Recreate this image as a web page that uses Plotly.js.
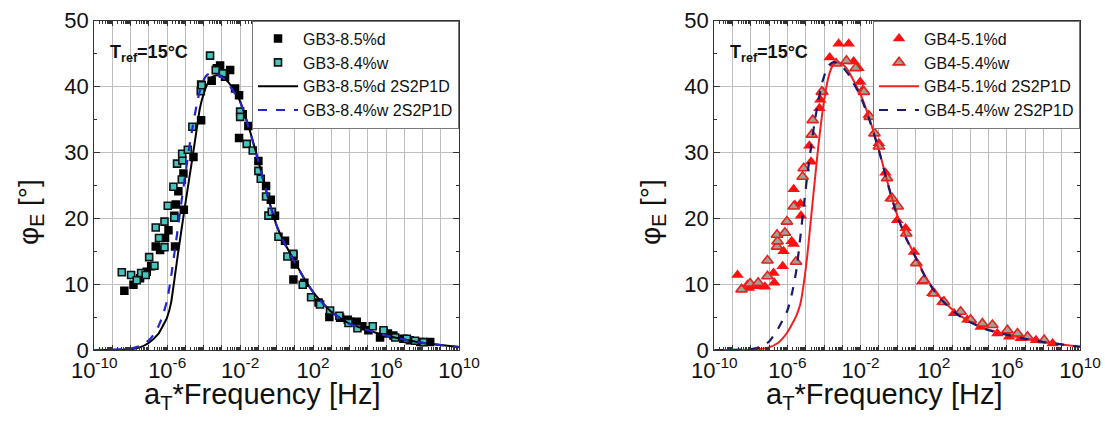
<!DOCTYPE html>
<html>
<head>
<meta charset="utf-8">
<script src="https://cdn.plot.ly/plotly-3.0.1.min.js"></script>
<style>html,body{margin:0;padding:0;background:#fff;}#chart{width:1105px;height:427px;}</style>
</head>
<body>
<div id="chart"></div>
<script>
// ---------- DATA (x stored as log10 of aT*Frequency [Hz], y = phase angle [deg]) ----------
// Left panel: GB3
var gb3dLogF = [-8.35,-7.85,-7.49,-7.12,-6.88,-6.63,-6.39,-6.12,-5.93,-5.57,-5.61,-5.53,-5.39,-5.09,-5.11,-4.56,-4.14,-4.14,-3.56,-3.28,-3.10,-2.83,-2.55,-2.28,-2.06,-2.06,-1.86,-1.55,-1.0,-0.58,-0.32,-0.09,0.46,0.92,0.92,1.0,1.52,2.3,2.89,3.48,3.9,4.03,4.39,4.7,5.03,5.67,5.86,6.1,6.40,6.95,7.3,7.87,8.42];
var gb3dPhi  = [9.0,9.9,10.9,11.9,12.7,15.7,15.2,17.0,18.2,15.7,20.4,22.1,24.1,21.3,26.8,29.3,34.9,40.3,40.9,42.8,43.2,41.5,42.5,39.7,38.7,32.2,35.8,34.0,28.7,24.9,22.8,20.4,16.6,14.3,10.7,13.0,10.2,7.2,5.0,4.9,4.6,4.3,4.3,3.6,3.0,1.9,2.7,2.5,2.2,1.7,1.5,1.2,1.2];
var gb3wLogF = [-8.49,-7.98,-7.67,-7.43,-7.18,-6.99,-6.70,-6.63,-6.45,-6.15,-6.15,-5.97,-5.66,-5.61,-5.46,-5.20,-5.17,-5.18,-4.87,-4.62,-4.16,-4.11,-3.65,-3.34,-2.95,-2.0,-2.0,-1.64,-1.31,-1.0,-0.87,-0.58,-0.45,-0.27,0.10,0.59,0.92,1.43,1.89,2.38,2.93,3.44,3.94,4.43,5.27,5.86,6.50,7.14,7.59,8.05];
var gb3wPhi  = [11.8,11.4,10.6,11.7,11.4,14.1,12.8,18.6,17.0,19.5,15.6,21.9,24.8,20.1,28.3,25.9,28.8,29.8,30.4,33.9,39.3,40.2,44.7,42.5,42.0,36.2,35.4,31.3,30.3,27.2,26.0,23.3,20.4,21.0,17.2,14.2,14.6,9.9,8.0,6.9,6.0,5.2,4.1,3.3,3.6,3.0,1.9,1.7,1.4,1.2];
var gb3dModelLogF = [-10,-9,-8,-7.5,-7,-6.5,-6.25,-6,-5.8,-5.6,-5.4,-5.2,-5,-4.8,-4.6,-4.4,-4.2,-4,-3.8,-3.5,-3.2,-2.9,-2.6,-2.3,-2,-1.5,-1,-0.5,0,0.5,1,1.5,2,2.5,3,3.5,4,5,6,7,8,9,10];
var gb3dModelPhi  = [0,0.02,0.12,0.4,1.1,2.4,3.6,5.0,7.0,10.8,14.8,18.6,22.3,25.9,29.5,33.2,36.8,38.9,40.4,41.5,41.7,41.4,40.5,39.4,37.7,33.6,28.7,23.5,18.9,15.9,13.4,10.9,8.8,7.2,5.8,4.8,4.0,3.0,2.2,1.6,1.1,0.75,0.45];
var gb3wModelLogF = [-10,-9,-8,-7.5,-7,-6.75,-6.5,-6.25,-6,-5.8,-5.6,-5.4,-5.2,-5,-4.8,-4.6,-4.4,-4.2,-4,-3.8,-3.5,-3.2,-2.9,-2.6,-2.3,-2,-1.5,-1,-0.5,0,0.5,1,1.5,2,2.5,3,3.5,4,5,6,7,8,9,10];
var gb3wModelPhi  = [0,0.03,0.2,0.6,1.5,2.3,3.5,5.2,7.6,10.9,14.8,18.8,22.9,26.8,30.6,34.0,37.0,39.5,41.0,41.8,42.1,41.8,41.2,40.2,39.0,37.7,33.5,28.6,23.4,18.9,15.8,13.3,10.9,8.8,7.2,5.8,4.8,4.0,3.0,2.2,1.6,1.1,0.75,0.45];

// Right panel: GB4
var gb4dLogF = [-8.73,-8.18,-8.11,-7.67,-7.23,-6.72,-6.76,-6.26,-6.21,-5.77,-5.66,-5.66,-5.59,-5.29,-5.26,-4.80,-4.71,-4.25,-4.20,-4.07,-3.69,-3.20,-2.65,-2.38,-2.11,-2.02,-1.87,-1.56,-1.0,-0.64,-0.37,0.0,0.46,0.92,1.37,1.92,2.47,3.11,3.84,4.57,5.48,6.12,6.76,7.59,8.50];
var gb4dPhi  = [11.4,9.9,9.4,9.7,9.6,10.2,11.7,12.7,15.0,16.5,16.1,24.4,22.0,22.2,20.4,31.0,28.6,36.7,38.0,39.2,44.4,46.5,46.5,43.8,42.8,40.7,39.5,35.7,31.4,26.9,23.0,19.7,18.5,14.9,10.4,8.6,7.3,5.6,4.6,3.5,2.5,2.0,1.8,1.5,1.0];
var gb4wLogF = [-8.51,-8.04,-7.60,-7.09,-7.09,-6.57,-6.54,-6.57,-6.14,-6.03,-5.53,-5.66,-5.17,-5.11,-4.67,-4.62,-4.12,-3.34,-2.77,-2.27,-1.82,-1.50,-1.24,-1.0,-0.55,-0.27,0.04,0.5,1.05,1.46,2.01,2.56,3.47,4.02,4.66,5.21,6.03,6.58,7.13,8.04];
var gb4wPhi  = [9.2,10.1,10.2,11.2,13.6,15.7,16.5,17.5,17.8,19.5,13.4,21.8,26.3,27.6,32.7,34.9,39.2,43.5,43.9,42.8,39.2,35.4,32.9,30.9,26.1,23.0,21.8,17.7,13.2,10.6,8.6,7.3,5.8,4.6,4.0,3.8,3.0,2.5,2.0,1.5];
var gb4dModelLogF = [-10,-9,-8,-7.5,-7,-6.5,-6.25,-6,-5.75,-5.5,-5.3,-5.1,-4.9,-4.7,-4.5,-4.3,-4.1,-3.9,-3.7,-3.5,-3.3,-3.0,-2.7,-2.4,-2,-1.5,-1,-0.5,0,0.5,1,1.5,2,2.5,3,3.5,4,5,6,7,8,9,10];
var gb4dModelPhi  = [0,0.01,0.05,0.15,0.4,1.1,1.8,2.7,3.9,5.3,6.9,10.2,14.7,20.3,25.8,31.2,35.8,39.5,42.0,43.3,43.7,43.4,42.5,41.0,38.8,35.0,30.4,25.2,20.5,17.0,14.2,11.4,9.2,7.5,6.2,5.1,4.3,3.1,2.4,1.7,1.2,0.85,0.5];
var gb4wModelLogF = [-10,-9,-8,-7.5,-7,-6.5,-6.25,-6,-5.75,-5.5,-5.3,-5.1,-4.9,-4.7,-4.5,-4.3,-4.1,-3.9,-3.7,-3.5,-3.3,-3.0,-2.7,-2.4,-2,-1.5,-1,-0.5,0,0.5,1,1.5,2,2.5,3,3.5,4,5,6,7,8,9,10];
var gb4wModelPhi  = [0,0.02,0.15,0.45,1.3,3.3,4.6,6.0,8.6,12.3,17.0,22.0,26.8,31.0,34.8,38.0,40.6,42.3,43.3,43.7,43.6,43.0,42.0,40.6,38.5,34.8,30.3,25.1,20.4,16.9,14.1,11.3,9.1,7.4,6.1,5.0,4.2,3.0,2.3,1.7,1.2,0.85,0.5];

// Axis ticks
var decadeExps = [-10,-9,-8,-7,-6,-5,-4,-3,-2,-1,0,1,2,3,4,5,6,7,8,9,10];
var labelledExps = [-10,-6,-2,2,6,10];

// ---------- BUILD ----------
function toF(arr){ return arr.map(function(e){ return Math.pow(10, e); }); }
var FONT = 'Liberation Sans, Arial, Helvetica, sans-serif';
var tickVals = toF(decadeExps);
var tickText = decadeExps.map(function(e){ return labelledExps.indexOf(e) >= 0 ? '10<sup>' + e + '</sup>' : ''; });

var traces = [
  {x: toF(gb3dLogF), y: gb3dPhi, mode:'markers', name:'GB3-8.5%d', xaxis:'x', yaxis:'y', legend:'legend',
   marker:{symbol:'square', size:8.5, color:'#000000', line:{width:0}}},
  {x: toF(gb3wLogF), y: gb3wPhi, mode:'markers', name:'GB3-8.4%w', xaxis:'x', yaxis:'y', legend:'legend',
   marker:{symbol:'square', size:7, color:'#44c4ba', line:{width:1.6, color:'#111111'}}},
  {x: toF(gb3dModelLogF), y: gb3dModelPhi, mode:'lines', name:'GB3-8.5%d 2S2P1D', xaxis:'x', yaxis:'y', legend:'legend',
   line:{color:'#000000', width:2, shape:'spline', smoothing:0.6}},
  {x: toF(gb3wModelLogF), y: gb3wModelPhi, mode:'lines', name:'GB3-8.4%w 2S2P1D', xaxis:'x', yaxis:'y', legend:'legend',
   line:{color:'#2424c8', width:2.2, dash:'dash', shape:'spline', smoothing:0.6}},

  {x: toF(gb4dLogF), y: gb4dPhi, mode:'markers', name:'GB4-5.1%d', xaxis:'x2', yaxis:'y2', legend:'legend2',
   marker:{symbol:'triangle-up', size:11, color:'#ff1010', line:{width:0}}},
  {x: toF(gb4wLogF), y: gb4wPhi, mode:'markers', name:'GB4-5.4%w', xaxis:'x2', yaxis:'y2', legend:'legend2',
   marker:{symbol:'triangle-up', size:10, color:'#a0a392', line:{width:1.6, color:'#e82020'}}},
  {x: toF(gb4dModelLogF), y: gb4dModelPhi, mode:'lines', name:'GB4-5.1%d 2S2P1D', xaxis:'x2', yaxis:'y2', legend:'legend2',
   line:{color:'#f02020', width:2, shape:'spline', smoothing:0.6}},
  {x: toF(gb4wModelLogF), y: gb4wModelPhi, mode:'lines', name:'GB4-5.4%w 2S2P1D', xaxis:'x2', yaxis:'y2', legend:'legend2',
   line:{color:'#1a1a6a', width:2.2, dash:'dash', shape:'spline', smoothing:0.6}}
];

function xAxis(domain){
  return {
    domain: domain, type:'log', range:[-10,10], tickmode:'array', tickvals: tickVals, ticktext: tickText,
    ticks:'inside', ticklen:5, tickcolor:'#333', showline:true, linecolor:'#333', linewidth:1.2, mirror:'allticks',
    showgrid:true, gridcolor:'#bdbdbd', gridwidth:1, zeroline:false,
    tickfont:{family:FONT, size:22, color:'#111'},
    minor:{ticks:'inside', ticklen:3, dtick:'D1', tickcolor:'#333', showgrid:false}
  };
}
function yAxis(anchor){
  return {
    domain:[0.1803, 0.9515], range:[0,50], dtick:10, anchor: anchor,
    ticks:'inside', ticklen:6, tickcolor:'#333', showline:true, linecolor:'#333', linewidth:1.2, mirror:'allticks',
    showgrid:true, gridcolor:'#bdbdbd', gridwidth:1, zeroline:false,
    tickfont:{family:FONT, size:22, color:'#111'},
    minor:{ticks:'inside', ticklen:3, dtick:5, tickcolor:'#333', showgrid:false}
  };
}
function legendCfg(xRight){
  return {x:xRight, xanchor:'right', y:0.9515, yanchor:'top', bgcolor:'#ffffff', bordercolor:'#777', borderwidth:1,
          font:{family:FONT, size:16, color:'#111'}, tracegroupgap:0, itemwidth:40};
}

var layout = {
  width:1105, height:427, margin:{l:0, r:0, t:0, b:0},
  paper_bgcolor:'#ffffff', plot_bgcolor:'#ffffff', showlegend:true,
  xaxis: Object.assign(xAxis([0.0853, 0.4154]), {anchor:'y'}),
  yaxis: yAxis('x'),
  xaxis2: Object.assign(xAxis([0.6464, 0.9774]), {anchor:'y2'}),
  yaxis2: yAxis('x2'),
  legend: legendCfg(0.4154),
  legend2: legendCfg(0.9774),
  annotations: [
    {text:'φ<sub>E</sub> [°]', textangle:-90, x:30/1105, y:1-212/427, xref:'paper', yref:'paper', xanchor:'center', yanchor:'middle', showarrow:false, font:{family:FONT, size:28, color:'#111'}},
    {text:'φ<sub>E</sub> [°]', textangle:-90, x:652/1105, y:1-212/427, xref:'paper', yref:'paper', xanchor:'center', yanchor:'middle', showarrow:false, font:{family:FONT, size:28, color:'#111'}},
    {text:'a<sub>T</sub>*Frequency [Hz]', x:262/1105, y:1-396/427, xref:'paper', yref:'paper', xanchor:'center', yanchor:'middle', showarrow:false, font:{family:FONT, size:29, color:'#111'}},
    {text:'a<sub>T</sub>*Frequency [Hz]', x:883.5/1105, y:1-396/427, xref:'paper', yref:'paper', xanchor:'center', yanchor:'middle', showarrow:false, font:{family:FONT, size:29, color:'#111'}},
    {text:'<b>T<sub>ref</sub>=15°C</b>', x:108/1105, y:1-53/427, xref:'paper', yref:'paper', xanchor:'left', yanchor:'middle', showarrow:false, font:{family:FONT, size:18, color:'#111'}},
    {text:'<b>T<sub>ref</sub>=15°C</b>', x:728/1105, y:1-53/427, xref:'paper', yref:'paper', xanchor:'left', yanchor:'middle', showarrow:false, font:{family:FONT, size:18, color:'#111'}}
  ]
};

Plotly.newPlot('chart', traces, layout, {displayModeBar:false, staticPlot:true});
</script>
</body>
</html>
